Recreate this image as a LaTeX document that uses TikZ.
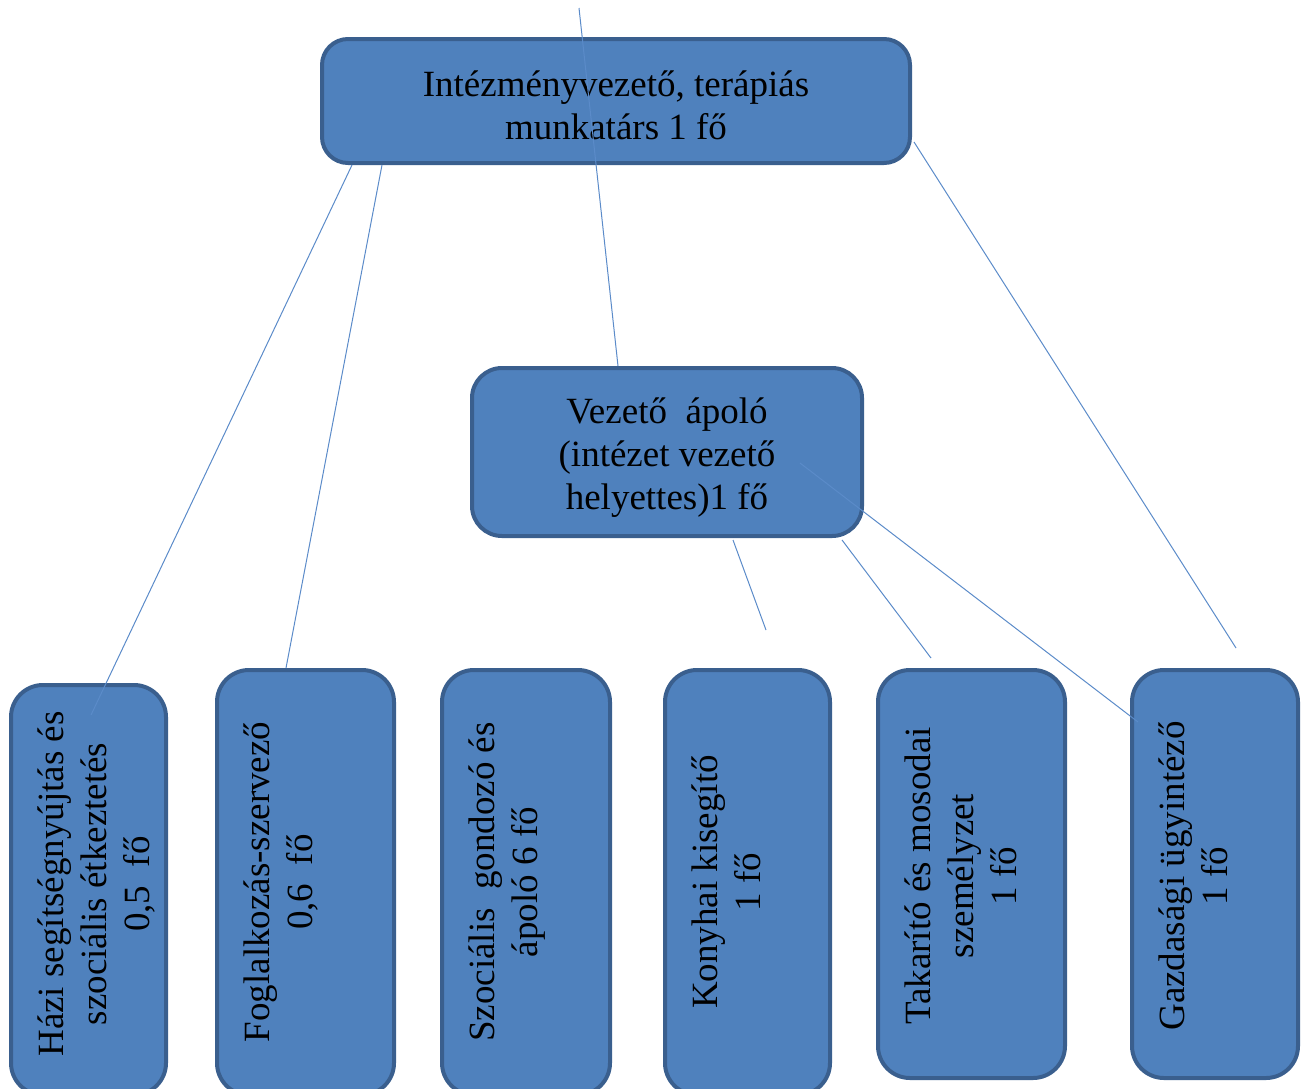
\documentclass[tikz,border=0pt]{standalone}
\usepackage{fontspec}
\setmainfont{Liberation Serif}
\usetikzlibrary{calc}
\definecolor{boxfill}{HTML}{4F81BD}
\definecolor{boxline}{HTML}{3A5F8E}
\definecolor{conncol}{HTML}{5B8BC9}
\begin{document}
\begin{tikzpicture}[x=0.5pt,y=-0.5pt,
  box/.style={draw=boxline, line width=2pt, fill=boxfill, rounded corners=13pt, inner sep=0pt},
  tbox/.style={box, rounded corners=16pt},
  conn/.style={draw=conncol, line width=0.5pt},
  txt/.style={font=\fontsize{18.5}{21.5}\selectfont, align=center, inner sep=0pt},
  vtxt/.style={txt, rotate=90, anchor=north}]
\useasboundingbox (0,0) rectangle (1301,1088);
\clip (0,0) rectangle (1301,1088);

% boxes
\node[box, minimum width=294pt, minimum height=62pt] (top) at (616,101) {};
\node[txt] (ttop) at (616,105) {Intézményvezető, terápiás\\munkatárs 1 fő};
\node[box, rounded corners=15pt, minimum width=195pt, minimum height=84pt] (mid) at (667,452) {};
\node[txt] (tmid) at (667,458) {Vezető\ \ ápoló\\(intézet vezető\\helyettes)1 fő};

\node[tbox, minimum width=77.5pt, minimum height=205pt] (b1) at (88.5,890) {};
\node[tbox, minimum width=88.5pt, minimum height=212.5pt] (b2) at (305.5,882.5) {};
\node[tbox, minimum width=84pt, minimum height=212.5pt] (b3) at (526,882.5) {};
\node[tbox, minimum width=82.5pt, minimum height=212.5pt] (b4) at (747.5,882.5) {};
\node[tbox, minimum width=93.5pt, minimum height=204pt] (b5) at (971.5,874) {};
\node[tbox, minimum width=83pt, minimum height=204pt] (b6) at (1215,874) {};

% rotated texts
\node[vtxt] (t1) at (37,884) {Házi segítségnyújtás és\\szociális étkeztetés\\0,5\ \ fő};
\node[vtxt] (t2) at (243,882) {Foglalkozás-szervező\\0,6\ \ fő};
\node[vtxt] (t3) at (468,882) {Szociális\ \ gondozó és\\ápoló 6 fő};
\node[vtxt] (t4) at (691,882) {Konyhai kisegítő\\1 fő};
\node[vtxt] (t5) at (904,876) {Takarító és mosodai\\személyzet\\1 fő};
\node[vtxt] (t6) at (1158,876) {Gazdasági ügyintéző\\1 fő};

% free ends
\coordinate (c0) at (579,8);
\coordinate (e4) at ($(b4.north west)+(103,-38)$);
\coordinate (e5) at ($(b5.north west)+(55,-10)$);
\coordinate (e6) at ($(b6.north west)+(106,-20)$);

% connectors
\draw[conn] ($(top.south west)+(32,0)$) -- ($(b1.north west)+(82,32)$);
\draw[conn] ($(top.south west)+(62,0)$) -- ($(b2.north west)+(71,0)$);
\draw[conn] (c0) -- ($(mid.north west)+(148,0)$);
\draw[conn] ($(top.south east)+(2,-23)$) -- (e6);
\draw[conn] ($(mid.south west)+(263,2)$) -- (e4);
\draw[conn] ($(mid.south east)+(-22,2)$) -- (e5);
\draw[conn] ($(mid.center)+(133,11)$) -- ($(b6.north west)+(8,54)$);
\end{tikzpicture}
\end{document}
